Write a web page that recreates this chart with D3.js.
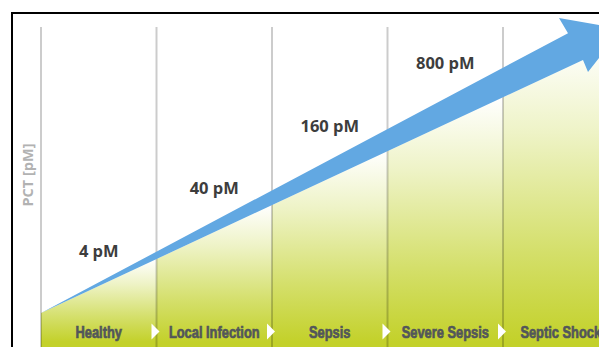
<!DOCTYPE html>
<html>
<head>
<meta charset="utf-8">
<script src="https://cdn.jsdelivr.net/npm/d3@7"></script>
<style>
  html, body { margin: 0; padding: 0; background: #fff; overflow: hidden; }
  svg { display: block; }
</style>
</head>
<body>
<svg id="chart"></svg>
<script>
const stages = ["Healthy", "Local Infection", "Sepsis", "Severe Sepsis", "Septic Shock"];
const pctValues = [4, 40, 160, 800];
const valueUnit = "pM";
const axisTitle = "PCT [pM]";

const width = 599;
const height = 347;

const svg = d3.select("#chart")
  .attr("width", width)
  .attr("height", height);

const defs = svg.append("defs");

// columns
const x = d3.scaleBand()
  .domain(stages)
  .range([41, 41 + 115.5 * stages.length]);

// label height follows stage order
const yLabel = d3.scalePoint()
  .domain(pctValues)
  .range([257, 69]);

const x0 = x.range()[0];
const baseY = 313;
const lineTop = 27;
// arrow edges
const slopeBottom = 0.467;
const slopeTop = 0.531;
const yBottom = (px) => baseY - slopeBottom * (px - x0);
const yTop = (px) => baseY - slopeTop * (px - x0);

// frame
svg.append("rect")
  .attr("x", 12)
  .attr("y", 13)
  .attr("width", 640)
  .attr("height", 380)
  .attr("fill", "#fff")
  .attr("stroke", "#000")
  .attr("stroke-width", 2);

// green area under the arrow
const areaRight = x.range()[1];
defs.append("clipPath")
  .attr("id", "areaClip")
  .append("path")
  .attr("d", d3.line()([
    [x0, baseY], [areaRight, yBottom(areaRight)], [areaRight, height + 5], [x0, height + 5]
  ]) + "Z");

stages.forEach((s, i) => {
  const g = defs.append("linearGradient")
    .attr("id", "grad" + i)
    .attr("gradientUnits", "userSpaceOnUse")
    .attr("x1", 0).attr("x2", 0)
    .attr("y1", yBottom(x(s) + x.bandwidth()))
    .attr("y2", 342);
  g.append("stop").attr("offset", 0).attr("stop-color", "#ffffff");
  g.append("stop").attr("offset", 0.3).attr("stop-color", "#eef3c6");
  g.append("stop").attr("offset", 0.7).attr("stop-color", "#d4df6a");
  g.append("stop").attr("offset", 1).attr("stop-color", "#c3d12a");
});

svg.append("g")
  .attr("clip-path", "url(#areaClip)")
  .selectAll("rect")
  .data(stages)
  .join("rect")
  .attr("x", (d) => x(d))
  .attr("y", 0)
  .attr("width", x.bandwidth() + 0.5)
  .attr("height", height + 5)
  .attr("fill", (d, i) => "url(#grad" + i + ")");

// column separators
svg.append("g")
  .selectAll("line")
  .data(stages)
  .join("line")
  .attr("x1", (d) => x(d))
  .attr("x2", (d) => x(d))
  .attr("y1", lineTop)
  .attr("y2", height)
  .attr("stroke", "rgba(0,0,0,0.2)")
  .attr("stroke-width", 2);

// arrow
const notchTopX = 568, notchBottomX = 583;
const arrowPts = [
  [x0, baseY],
  [notchTopX, yTop(notchTopX)],
  [559, 18],
  [622, 29],
  [588, 72],
  [notchBottomX, yBottom(notchBottomX)]
];
svg.append("path")
  .attr("d", d3.line()(arrowPts) + "Z")
  .attr("fill", "#62a8e2");

// values
svg.append("g")
  .selectAll("text")
  .data(pctValues)
  .join("text")
  .attr("x", (d, i) => x(stages[i]) + x.bandwidth() / 2)
  .attr("y", (d) => yLabel(d))
  .attr("text-anchor", "middle")
  .attr("font-family", "'Open Sans', sans-serif")
  .attr("font-weight", 700)
  .attr("font-size", 16.5)
  .attr("fill", "#3d3d3d")
  .text((d) => d + " " + valueUnit);

// stage names
svg.append("g")
  .selectAll("text")
  .data(stages)
  .join("text")
  .attr("transform", (d) => "translate(" + (x(d) + x.bandwidth() / 2) + ",338) scale(0.78,1)")
  .attr("text-anchor", "middle")
  .attr("font-family", "'Liberation Sans', Arial, sans-serif")
  .attr("font-weight", 700)
  .attr("font-size", 16.5)
  .attr("fill", "#52565a")
  .attr("stroke", "#52565a")
  .attr("stroke-width", 0.7)
  .text((d) => d);

// white pointers between stages
svg.append("g")
  .selectAll("path")
  .data(stages.slice(1))
  .join("path")
  .attr("d", (d) => {
    const bx = x(d);
    return d3.line()([[bx - 5, 323.5], [bx + 3, 331.5], [bx - 5, 339.5]]) + "Z";
  })
  .attr("fill", "#fff");

// axis title
svg.append("text")
  .attr("transform", "translate(33,175) rotate(-90)")
  .attr("text-anchor", "middle")
  .attr("font-family", "'Open Sans', sans-serif")
  .attr("font-weight", 700)
  .attr("font-size", 14.5)
  .attr("fill", "#b2b2b2")
  .text(axisTitle);
</script>
</body>
</html>
